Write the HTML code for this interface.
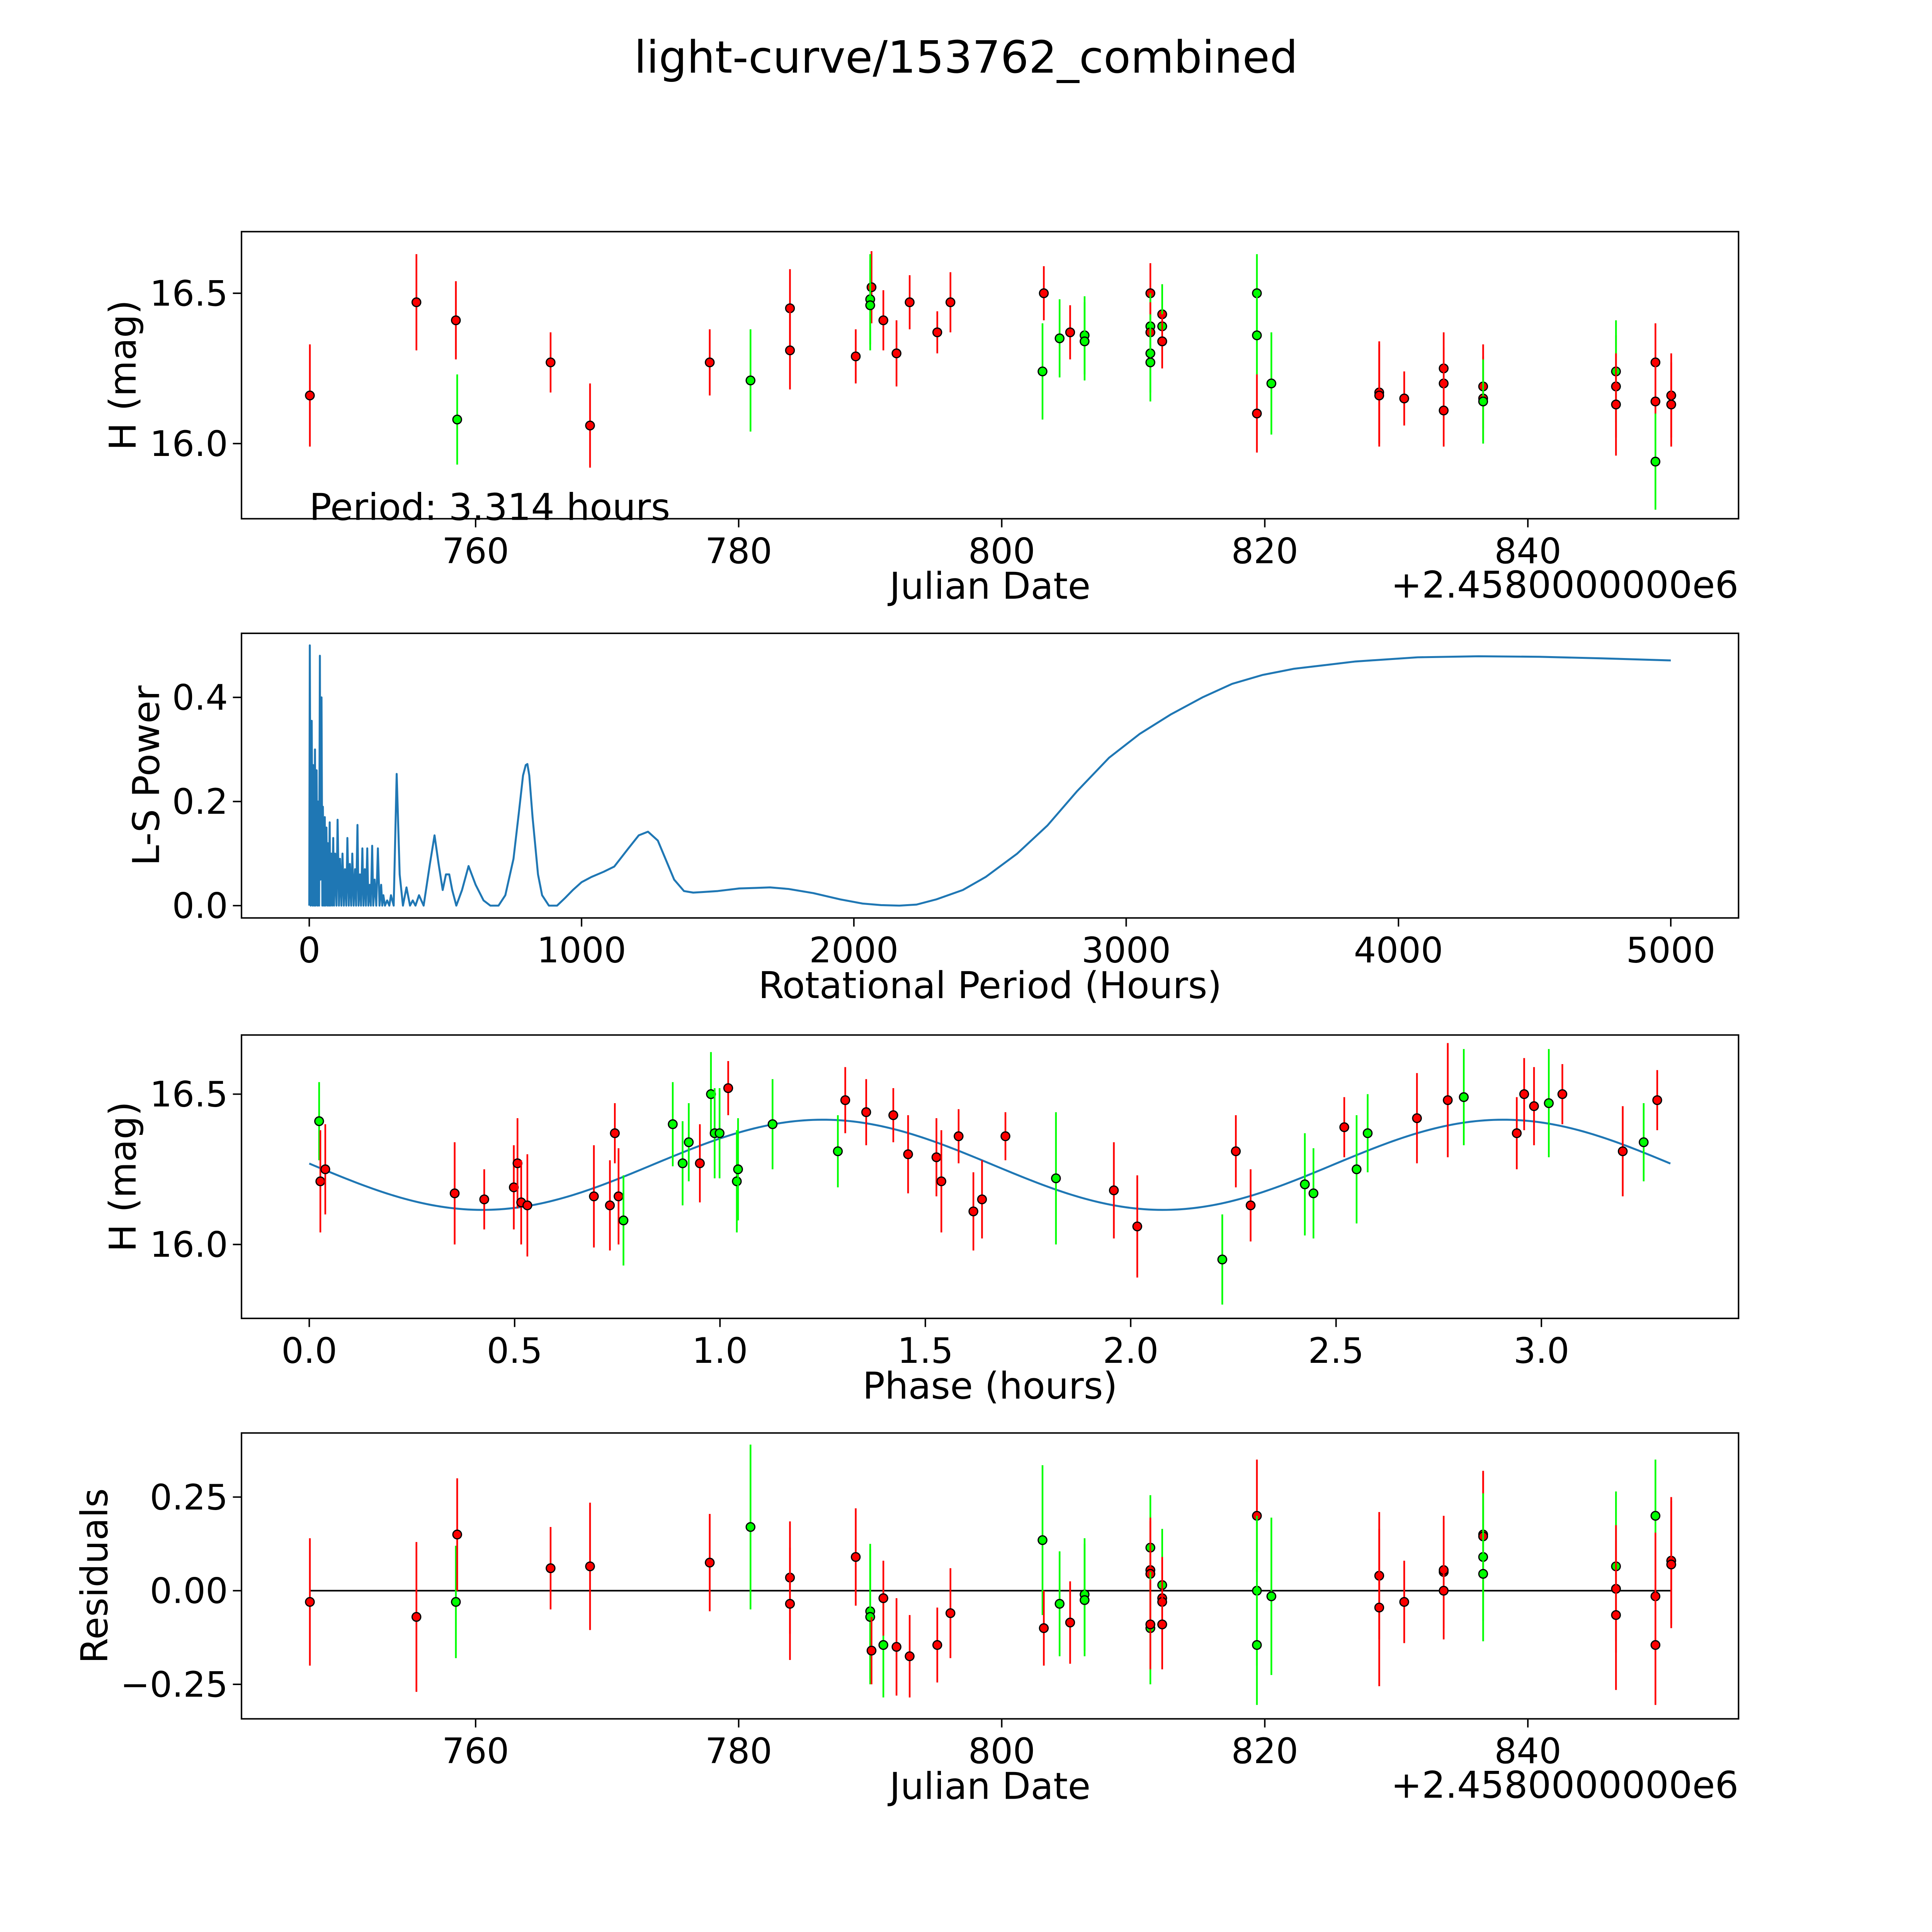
<!DOCTYPE html>
<html><head><meta charset="utf-8"><style>
html,body{margin:0;padding:0;background:#fff;width:100%;height:100%;overflow:hidden;}
svg{display:block;width:100vw;height:100vh;font-family:"DejaVu Sans","Liberation Sans",sans-serif;}
</style></head><body>
<svg id="fig" viewBox="0 0 1568 1568" preserveAspectRatio="xMinYMin meet" xmlns="http://www.w3.org/2000/svg">
<rect width="1568" height="1568" fill="#fff"/>
<text x="784" y="59" font-size="36" text-anchor="middle">light-curve/153762_combined</text>
</svg>
<script>
// ---- Panel 1: raw light curve ----
const p1Dates=[747.4,755.5,758.5,758.6,765.7,768.7,777.8,780.9,783.9,783.9,788.9,790.1,790.0,790.0,791.0,792.0,793.0,795.1,796.1,803.2,803.1,804.4,805.2,806.3,806.3,811.3,811.3,811.3,811.3,811.3,812.2,812.2,812.2,812.2,819.4,819.4,819.4,820.5,828.7,828.7,830.6,833.6,833.6,833.6,836.6,836.6,836.6,846.7,846.7,846.7,849.7,849.7,849.7,850.9,850.9];
const p1Mags=[16.16,16.47,16.41,16.08,16.27,16.06,16.27,16.21,16.45,16.31,16.29,16.52,16.48,16.46,16.41,16.30,16.47,16.37,16.47,16.50,16.24,16.35,16.37,16.36,16.34,16.50,16.39,16.37,16.30,16.27,16.43,16.39,16.34,16.34,16.50,16.36,16.10,16.20,16.17,16.16,16.15,16.25,16.20,16.11,16.19,16.15,16.14,16.19,16.24,16.13,16.27,16.14,15.94,16.16,16.13];
const p1Filters=["r","r","r","g","r","r","r","g","r","r","r","r","g","g","r","r","r","r","r","r","g","g","r","g","g","r","g","r","g","g","r","g","r","r","g","g","r","g","r","r","r","r","r","r","r","r","g","r","g","r","r","r","g","r","r"];
const p1Errs=[0.17,0.16,0.13,0.15,0.10,0.14,0.11,0.17,0.13,0.13,0.09,0.12,0.15,0.15,0.10,0.11,0.09,0.07,0.10,0.09,0.16,0.13,0.09,0.13,0.13,0.10,0.11,0.10,0.13,0.13,0.10,0.14,0.09,0.09,0.13,0.13,0.13,0.17,0.17,0.17,0.09,0.12,0.12,0.12,0.14,0.14,0.14,0.17,0.17,0.17,0.13,0.13,0.16,0.14,0.14];
// ---- Panel 2: periodogram ----
const lsPeriods=[0,2,5,9,12,14,18,21,23,27,30,32,36,39,41,45,48,50,54,57,59,63,66,68,72,75,77,81,84,88,91,95,100,104,109,113,118,122,127,131,136,140,145,149,154,158,163,168,172,177,181,186,190,195,199,204,208,213,217,222,226,231,235,240,246,252,258,264,268,272,278,286,294,300,310,
321,332,344,357,370,380,390,403,420,443,
460,475,490,502,514,525,540,561,585,611,
640,665,695,720,750,770,785,795,801,808,
820,840,855,880,910,940,968,1000,1036,1081,
1120,1172,1210,1244,1280,1308,1340,1376,1410,1443,
1500,1579,1640,1692,1760,1851,1950,2032,2100,2167,
2230,2303,2400,2484,2600,2711,2820,2937,3050,3163,
3280,3389,3500,3616,3730,3842,4070,4294,4520,4747,
5000];
const lsPowers=[0,0.50,0,0.355,0,0.27,0,0.30,0,0.26,0,0.2,0,0.48,0.05,0.40,0,0.19,0,0.17,0,0.15,0,0.12,0,0.16,0,0.10,0,0.13,0,0.10,0,0.165,0,0.09,0,0.10,0,0.07,0,0.13,0,0.08,0,0.10,0,0.07,0,0.155,0,0.06,0,0.11,0,0.07,0,0.11,0,0.04,0,0.115,0,0.05,0,0.11,0,0.04,0,0.02,0,0.01,0,0.02,0,
0.253,0.06,0.0,0.035,0.0,0.01,0.0,0.02,0.0,0.08,
0.135,0.08,0.03,0.06,0.06,0.03,0.0,0.03,0.076,0.04,
0.01,0.0,0.0,0.02,0.09,0.18,0.25,0.27,0.272,0.25,
0.17,0.06,0.02,0.0,0.0,0.015,0.03,0.045,0.055,0.065,
0.075,0.11,0.135,0.142,0.125,0.09,0.05,0.028,0.025,0.026,
0.028,0.033,0.034,0.035,0.032,0.024,0.012,0.004,0.001,0.0,
0.002,0.012,0.03,0.055,0.1,0.154,0.22,0.284,0.33,0.367,
0.40,0.426,0.443,0.455,0.462,0.469,0.477,0.479,0.478,0.475,
0.471];
// ---- Panel 3: phased curve ----
const phases=[0.024,0.027,0.039,0.354,0.426,0.498,0.507,0.516,0.531,0.693,0.732,0.744,0.753,0.765,0.885,0.909,0.924,0.951,0.978,0.987,0.999,1.02,1.041,1.044,1.128,1.287,1.305,1.356,1.422,1.458,1.527,1.539,1.581,1.617,1.638,1.695,1.818,1.959,2.016,2.223,2.256,2.292,2.424,2.445,2.520,2.550,2.577,2.697,2.772,2.811,2.940,2.958,2.982,3.018,3.051,3.198,3.249,3.282];
const phaseMags=[16.41,16.21,16.25,16.17,16.15,16.19,16.27,16.14,16.13,16.16,16.13,16.37,16.16,16.08,16.40,16.27,16.34,16.27,16.50,16.37,16.37,16.52,16.21,16.25,16.40,16.31,16.48,16.44,16.43,16.30,16.29,16.21,16.36,16.11,16.15,16.36,16.22,16.18,16.06,15.95,16.31,16.13,16.20,16.17,16.39,16.25,16.37,16.42,16.48,16.49,16.37,16.50,16.46,16.47,16.50,16.31,16.34,16.48];
const phaseFilters=["g","r","r","r","r","r","r","r","r","r","r","r","r","g","g","g","g","r","g","g","g","r","g","g","g","g","r","r","r","r","r","r","r","r","r","r","g","r","r","g","r","r","g","g","r","g","g","r","r","g","r","r","r","g","r","r","g","r"];
const phaseErrs=[0.13,0.17,0.15,0.17,0.10,0.14,0.15,0.14,0.17,0.17,0.15,0.10,0.16,0.15,0.14,0.14,0.13,0.13,0.14,0.15,0.15,0.09,0.17,0.17,0.15,0.12,0.11,0.11,0.09,0.13,0.13,0.17,0.09,0.13,0.13,0.08,0.22,0.16,0.17,0.15,0.12,0.12,0.17,0.15,0.10,0.18,0.13,0.15,0.19,0.16,0.12,0.12,0.13,0.18,0.10,0.15,0.13,0.10];
const fitParams=[16.265,0.15,1.25,1.657,3.314]; // mean, amplitude, peak phase, half period, period
// ---- Panel 4: residuals ----
const resDates=[747.4,755.5,758.5,758.6,765.7,768.7,777.8,780.9,783.9,783.9,788.9,790.0,790.0,790.1,791.0,791.0,792.0,793.0,795.1,796.1,803.1,803.2,804.4,805.2,806.3,806.3,811.3,811.3,811.3,811.3,811.3,812.2,812.2,812.2,812.2,819.4,819.4,819.4,820.5,828.7,828.7,830.6,833.6,833.6,833.6,836.6,836.6,836.6,836.6,846.7,846.7,846.7,849.7,849.7,849.7,850.9,850.9];
const resVals=[-0.03,-0.07,-0.03,0.15,0.06,0.065,0.075,0.17,0.035,-0.035,0.09,-0.055,-0.07,-0.16,-0.145,-0.02,-0.15,-0.175,-0.145,-0.06,0.135,-0.1,-0.035,-0.085,-0.01,-0.025,0.115,0.055,0.045,-0.1,-0.09,0.015,-0.02,-0.03,-0.09,0.2,0,-0.145,-0.015,0.04,-0.045,-0.03,0.05,0.055,0,0.15,0.145,0.09,0.045,0.065,0.005,-0.065,0.2,-0.015,-0.145,0.08,0.07];
const resFilters=["r","r","g","r","r","r","r","g","r","r","r","g","g","r","g","r","r","r","r","r","g","r","g","r","g","g","g","r","r","g","r","g","r","r","r","r","g","g","g","r","r","r","r","r","r","r","r","g","g","g","r","r","g","r","r","r","r"];
const resErrs=[0.17,0.2,0.15,0.15,0.11,0.17,0.13,0.22,0.15,0.15,0.13,0.18,0.18,0.09,0.14,0.1,0.13,0.11,0.1,0.12,0.2,0.1,0.14,0.11,0.15,0.15,0.14,0.14,0.14,0.15,0.12,0.15,0.11,0.12,0.12,0.15,0.2,0.16,0.21,0.17,0.21,0.11,0.15,0.13,0.13,0.17,0.17,0.17,0.18,0.2,0.17,0.2,0.15,0.17,0.16,0.17,0.17];
const p1XTicks=[760,780,800,820,840];
const p2XTicks=[0,1000,2000,3000,4000,5000];
const p3XTicks=[0.0,0.5,1.0,1.5,2.0,2.5,3.0];
const magTicks=[16.0,16.5];
const powTicks=[0.0,0.2,0.4];
const resTicks=[-0.25,0.00,0.25];

const NS="http://www.w3.org/2000/svg";
const svg=document.getElementById('fig');
function mk(tag,attrs,parent){const e=document.createElementNS(NS,tag);for(const k in attrs)e.setAttribute(k,attrs[k]);(parent||svg).appendChild(e);return e;}
function lin(d0,d1,r0,r1){return v=>r0+(v-d0)*(r1-r0)/(d1-d0);}
const COL={r:"#ff0000",g:"#00ff00"};
const TFS=28.5, LFS=30;

function axes(name,L,T,R,B,xs,ys,xt,xfmt,yt,yfmt,xlabel,ylabel,ylabelX){
  const g=mk('g',{});
  
  
  xt.forEach(v=>{const x=xs(v);
    mk('line',{x1:x,x2:x,y1:B,y2:B+7,stroke:'#000','stroke-width':1.2},g);
    const l=mk('text',{x:x,y:B+36,'font-size':TFS,'text-anchor':'middle'},g);l.textContent=xfmt(v);
    
    });
  yt.forEach(v=>{const y=ys(v);
    mk('line',{x1:L-7,x2:L,y1:y,y2:y,stroke:'#000','stroke-width':1.2},g);
    const l=mk('text',{x:L-11,y:y+10,'font-size':TFS,'text-anchor':'end'},g);l.textContent=yfmt(v);
    
    });
  const xl=mk('text',{x:(L+R)/2,y:B+65,'font-size':LFS,'text-anchor':'middle'},g);xl.textContent=xlabel;
  
  
  const yl=mk('text',{x:0,y:0,'font-size':LFS,'text-anchor':'middle',transform:`translate(${ylabelX},${(T+B)/2}) rotate(-90)`},g);yl.textContent=ylabel;
  
  
  return g;
}
function frame(L,T,R,B){const f=mk('rect',{x:L,y:T,width:R-L,height:B-T,fill:'none',stroke:'#000','stroke-width':1.2});
  
  }
function errPoints(xs,ys,X,Y,E,F,name){
  const g=mk('g',{});
  
  
  for(let i=0;i<X.length;i++){
    const l=mk('line',{x1:xs(X[i]),x2:xs(X[i]),y1:ys(Y[i]-E[i]),y2:ys(Y[i]+E[i]),stroke:COL[F[i]],'stroke-width':1.4},g);
    
    
    const c=mk('circle',{cx:xs(X[i]),cy:ys(Y[i]),r:3.5,fill:COL[F[i]],stroke:'#000','stroke-width':1},g);
    
    
  }
}
const jdx=lin(760,840,386,1240);
// Panel 1
{const L=196,T=188,R=1411,B=421;const ys=lin(16.0,16.5,360,238);
 axes('raw-lightcurve-axes',L,T,R,B,jdx,ys,p1XTicks,v=>String(v),magTicks,v=>v.toFixed(1),'Julian Date','H (mag)',110);
 errPoints(jdx,ys,p1Dates,p1Mags,p1Errs,p1Filters,'raw-lightcurve-points');
 const pt=mk('text',{x:251,y:422,'font-size':LFS});pt.textContent='Period: 3.314 hours';
 
 
 frame(L,T,R,B);
 const off=mk('text',{x:1411,y:485,'font-size':LFS,'text-anchor':'end'});off.textContent='+2.4580000000e6';
 
 }
// Panel 2
{const L=196,T=514,R=1411,B=745;const xs=lin(0,5000,251,1356),ys=lin(0,0.4,735,566);
 axes('periodogram-axes',L,T,R,B,xs,ys,p2XTicks,v=>String(v),powTicks,v=>v.toFixed(1),'Rotational Period (Hours)','L-S Power',129);
 const n=Math.min(lsPeriods.length,lsPowers.length);
 const pts=[];for(let i=0;i<n;i++)pts.push(xs(lsPeriods[i]).toFixed(2)+','+ys(lsPowers[i]).toFixed(2));
 const pl=mk('polyline',{points:pts.join(' '),fill:'none',stroke:'#1f77b4','stroke-width':1.6,'stroke-linejoin':'round'});
 
 
 frame(L,T,R,B);}
// Panel 3
{const L=196,T=840,R=1411,B=1070;const xs=lin(0,3,251,1251),ys=lin(16.0,16.5,1010,888);
 axes('phased-axes',L,T,R,B,xs,ys,p3XTicks,v=>v.toFixed(1),magTicks,v=>v.toFixed(1),'Phase (hours)','H (mag)',110);
 const [m,a,pk,hp,per]=fitParams;let d='';
 for(let i=0;i<=300;i++){const p=per*i/300;const v=m+a*Math.cos(2*Math.PI*(p-pk)/hp);d+=(i?'L':'M')+xs(p).toFixed(2)+','+ys(v).toFixed(2);}
 const fp=mk('path',{d:d,fill:'none',stroke:'#1f77b4','stroke-width':1.6});
 
 
 errPoints(xs,ys,phases,phaseMags,phaseErrs,phaseFilters,'phased-points');
 frame(L,T,R,B);}
// Panel 4
{const L=196,T=1163,R=1411,B=1395;const ys=lin(0,0.25,1291,1215);
 axes('residuals-axes',L,T,R,B,jdx,ys,p1XTicks,v=>String(v),resTicks,v=>(v<0?'\u2212':'')+Math.abs(v).toFixed(2),'Julian Date','Residuals',87);
 const zl=mk('line',{x1:jdx(747.4),x2:jdx(850.9),y1:ys(0),y2:ys(0),stroke:'#000','stroke-width':1.3});
 
 
 errPoints(jdx,ys,resDates,resVals,resErrs,resFilters,'residual-points');
 frame(L,T,R,B);
 const off=mk('text',{x:1411,y:1459,'font-size':LFS,'text-anchor':'end'});off.textContent='+2.4580000000e6';
 
 }
</script>
</body></html>
